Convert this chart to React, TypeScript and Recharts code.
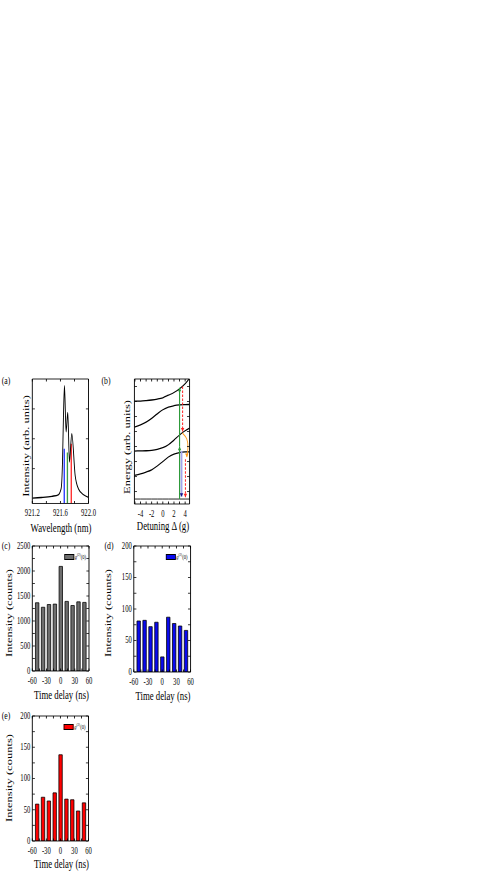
import React from 'react';
import { LineChart, Line, BarChart, Bar, XAxis, YAxis, Legend } from 'recharts';

// the printed figure is squashed sideways: lay everything out 1/S wider, then squeeze it back
const S = 0.7;
const FONT = '"Liberation Serif", "Times New Roman", Times, serif';
const AX = 1; // thickness given to each axis so recharts still draws it

// (a) emission spectrum
const WAVELENGTH = [921.2, 921.33, 921.48, 921.57, 921.61, 921.63, 921.643, 921.658, 921.681, 921.705, 921.729, 921.762, 921.81, 921.857, 921.93, 922.0];
const SPECTRUM = [0.043, 0.048, 0.058, 0.07, 0.118, 0.333, 0.683, 0.946, 0.575, 0.731, 0.333, 0.562, 0.226, 0.118, 0.07, 0.05];
const FILTER_WL = [921.655, 921.7, 921.755];
const FILTER_TOP = [0.44, 0.41, 0.48];
const FILTER_COLORS = ['#2436ff', '#3c9a46', '#ff2a2a'];
const WL_TICKS = [921.2, 921.4, 921.6, 921.8, 922.0];
const WL_LABELS = [921.2, 921.6, 922.0];
const SPEC_TICKS = [0.28, 0.52, 0.76];

// (b) dressed-state ladder vs detuning
const DETUNING = [-5.1, -4, -3, -2, -1, 0, 1, 2, 3, 4, 4.8];
const LEVEL_1 = [6.52, 6.53, 6.56, 6.6, 6.66, 6.75, 6.92, 7.1, 7.35, 7.68, 8.05];
const LEVEL_2 = [4.8, 4.95, 5.13, 5.38, 5.68, 5.95, 6.13, 6.22, 6.27, 6.29, 6.3];
const LEVEL_3 = [3.2, 3.21, 3.22, 3.25, 3.31, 3.42, 3.62, 3.93, 4.27, 4.55, 4.72];
const LEVEL_4 = [1.58, 1.68, 1.8, 1.95, 2.2, 2.5, 2.8, 3.0, 3.1, 3.14, 3.15];
const GROUND = [0, 0, 0, 0, 0, 0, 0, 0, 0, 0, 0];
const GREEN_DET = 3.0;
const GREEN_E = [0, 3.5, 7.42];
const BLUE_DET = 3.35;
const BLUE_E = [3.2, 0.15];
const RED_DET = [3.55, 4.05];
const RED_E = [[7.5, 4.5], [2.65, 0.12]];
const ORANGE_DET = [3.5, 4.3, 4.5, 4.3];
const ORANGE_E = [4.4, 4.0, 3.4, 2.8];
const DET_TICKS = [-5, -4, -3, -2, -1, 0, 1, 2, 3, 4];
const DET_LABELS = [-4, -2, 0, 2, 4];
const ENERGY_TICKS = [0.5, 1.5, 2.5, 3.5, 4.5, 5.5, 6.5, 7.5];

// (c)-(e) correlation histograms
const DELAY = [-50, -37.5, -25, -12.5, 0, 12.5, 25, 37.5, 50];
const COUNTS_ALL = [1365, 1275, 1330, 1338, 2092, 1392, 1310, 1383, 1372];
const COUNTS_BLUE = [81, 82, 72, 79, 24, 87, 77, 73, 66];
const COUNTS_RED = [59, 70, 64, 77, 138, 67, 66, 48, 61];
const DELAY_TICKS = [-60, -45, -30, -15, 0, 15, 30, 45, 60];
const DELAY_LABELS = [-60, -30, 0, 30, 60];
const ALL_TICKS = [0, 250, 500, 750, 1000, 1250, 1500, 1750, 2000, 2250, 2500];
const ALL_LABELS = [0, 500, 1000, 1500, 2000, 2500];
const SMALL_TICKS = [0, 25, 50, 75, 100, 125, 150, 175, 200];
const SMALL_LABELS = [0, 50, 100, 150, 200];

type Box = { sx: number[]; sy: number[]; px: number[]; py: number[] };
const BOX_A: Box = { sx: [0, 100], sy: [370, 530], px: [32.3, 88.5], py: [379, 503.5] };
const BOX_B: Box = { sx: [100, 200], sy: [370, 530], px: [134.3, 189.5], py: [379, 504] };
const BOX_C: Box = { sx: [0, 100], sy: [535, 700], px: [32.3, 89], py: [546, 671] };
const BOX_D: Box = { sx: [100, 200], sy: [535, 700], px: [133.7, 190.5], py: [546, 672] };
const BOX_E: Box = { sx: [0, 100], sy: [705, 873], px: [32.3, 88.5], py: [716, 841] };

const place = (b: Box) => ({
  left: b.sx[0] / S,
  top: b.sy[0],
  width: (b.sx[1] - b.sx[0]) / S,
  height: b.sy[1] - b.sy[0],
  margin: {
    left: (b.px[0] - b.sx[0]) / S - AX,
    right: (b.sx[1] - b.px[1]) / S - AX,
    top: b.py[0] - b.sy[0] - AX,
    bottom: b.sy[1] - b.py[1] - AX,
  },
});

const zip = (xs: number[], ys: number[]) => xs.map((x, i) => ({ x, y: ys[i] }));
const has = (list: number[] | undefined, v: number) => !!list && list.some((l) => Math.abs(l - v) < 1e-9);

// inward ticks drawn by hand, labels only on the listed values
const Tick = (props: any) => {
  const { x, y, payload, side, labels, fmt } = props;
  const v = payload.value;
  const len = 2.6;
  const txt = has(labels, v) ? (fmt ? fmt(v) : String(v)) : null;
  const textProps = { fontSize: 9.5, fontFamily: FONT, fill: '#000' };
  if (side === 'bottom')
    return (
      <g>
        <line x1={x} x2={x} y1={y} y2={y - len} stroke="#000" strokeWidth={1.2} />
        {txt && (
          <text x={x} y={y + 5.5} dy="0.75em" textAnchor="middle" {...textProps}>
            {txt}
          </text>
        )}
      </g>
    );
  if (side === 'top') return <line x1={x} x2={x} y1={y} y2={y + len} stroke="#000" strokeWidth={1.2} />;
  if (side === 'left')
    return (
      <g>
        <line x1={x} x2={x + len / S} y1={y} y2={y} stroke="#000" strokeWidth={0.9} />
        {txt && (
          <text x={x - 2 / S} y={y} dy="0.3em" textAnchor="end" {...textProps}>
            {txt}
          </text>
        )}
      </g>
    );
  return <line x1={x} x2={x - len / S} y1={y} y2={y} stroke="#000" strokeWidth={0.9} />;
};

const axisBase = {
  type: 'number' as const,
  allowDataOverflow: true,
  interval: 0 as const,
  tickSize: 0,
  tickMargin: 0,
  tickLine: false,
};

function frameAxes(o: { xDomain: number[]; xTicks: number[]; xLabels: number[]; xFmt?: (v: number) => string; yDomain: number[]; yTicks: number[]; yLabels?: number[] }) {
  return [
    <XAxis key="xb" xAxisId="b" dataKey="x" orientation="bottom" height={AX} domain={o.xDomain} ticks={o.xTicks} {...axisBase}
      axisLine={{ stroke: '#000', strokeWidth: 1 }}
      tick={(p: any) => <Tick {...p} side="bottom" labels={o.xLabels} fmt={o.xFmt} />} />,
    <XAxis key="xt" xAxisId="t" dataKey="x" orientation="top" height={AX} domain={o.xDomain} ticks={o.xTicks} {...axisBase}
      axisLine={{ stroke: '#000', strokeWidth: 1 }}
      tick={(p: any) => <Tick {...p} side="top" />} />,
    <YAxis key="yl" yAxisId="l" orientation="left" width={AX} domain={o.yDomain} ticks={o.yTicks} {...axisBase}
      axisLine={{ stroke: '#000', strokeWidth: 1.3 }}
      tick={(p: any) => <Tick {...p} side="left" labels={o.yLabels} />} />,
    <YAxis key="yr" yAxisId="r" orientation="right" width={AX} domain={o.yDomain} ticks={o.yTicks} {...axisBase}
      axisLine={{ stroke: '#000', strokeWidth: 1.3 }}
      tick={(p: any) => <Tick {...p} side="right" />} />,
  ];
}

// arrow head on the last point of a line
const arrowDot = (color: string, dir: 'up' | 'down', last: number) => (p: any) => {
  const { cx, cy, index } = p;
  if (index !== last) return <g key={index} />;
  const w = 1.7 / S;
  const h = 3.6;
  const base = dir === 'up' ? cy + h : cy - h;
  return <path key={index} d={`M${cx},${cy}L${cx - w},${base}L${cx + w},${base}Z`} fill={color} stroke="none" />;
};

const Label = ({ x, y, size = 12.5, rot = false, children }: any) => (
  <div
    style={{
      position: 'absolute',
      left: x / S,
      top: y,
      transform: `translate(-50%, -50%)${rot ? ' rotate(-90deg)' : ''}`,
      fontFamily: FONT,
      fontSize: size,
      whiteSpace: 'nowrap',
      lineHeight: 1,
      color: '#000',
    }}
  >
    {children}
  </div>
);

function SpectrumPanel() {
  const p = place(BOX_A);
  return (
    <div style={{ position: 'absolute', left: p.left, top: p.top }}>
      <LineChart width={p.width} height={p.height} margin={p.margin}>
        {frameAxes({ xDomain: [921.2, 922.0], xTicks: WL_TICKS, xLabels: WL_LABELS, xFmt: (v) => v.toFixed(1), yDomain: [0, 1], yTicks: SPEC_TICKS })}
        {FILTER_WL.map((wl, i) => (
          <Line key={i} xAxisId="b" yAxisId="l" data={zip([wl, wl], [0, FILTER_TOP[i]])} dataKey="y" type="linear"
            stroke={FILTER_COLORS[i]} strokeWidth={1.9} dot={false} isAnimationActive={false} />
        ))}
        <Line xAxisId="b" yAxisId="l" data={zip(WAVELENGTH, SPECTRUM)} dataKey="y" type="monotone"
          stroke="#000" strokeWidth={1.3} dot={false} isAnimationActive={false} />
      </LineChart>
    </div>
  );
}

function LadderPanel() {
  const p = place(BOX_B);
  const levels = [LEVEL_1, LEVEL_2, LEVEL_3, LEVEL_4, GROUND];
  return (
    <div style={{ position: 'absolute', left: p.left, top: p.top }}>
      <LineChart width={p.width} height={p.height} margin={p.margin}>
        {frameAxes({ xDomain: [-5.1, 4.8], xTicks: DET_TICKS, xLabels: DET_LABELS, yDomain: [-0.33, 8], yTicks: ENERGY_TICKS })}
        {levels.map((lv, i) => (
          <Line key={i} xAxisId="b" yAxisId="l" data={zip(DETUNING, lv)} dataKey="y" type="monotone"
            stroke="#000" strokeWidth={i === 4 ? 1 : 1.3} dot={false} isAnimationActive={false} />
        ))}
        <Line xAxisId="b" yAxisId="l" data={zip([BLUE_DET, BLUE_DET], BLUE_E)} dataKey="y" type="linear"
          stroke="#a4a4ee" strokeWidth={2.6} dot={arrowDot('#14148c', 'down', 1)} isAnimationActive={false} />
        <Line xAxisId="b" yAxisId="l" data={zip([GREEN_DET, GREEN_DET], [GREEN_E[0], GREEN_E[1]])} dataKey="y" type="linear"
          stroke="#2e9a3a" strokeWidth={1.6} dot={arrowDot('#2e9a3a', 'up', 1)} isAnimationActive={false} />
        <Line xAxisId="b" yAxisId="l" data={zip([GREEN_DET, GREEN_DET], [GREEN_E[1], GREEN_E[2]])} dataKey="y" type="linear"
          stroke="#2e9a3a" strokeWidth={1.6} dot={arrowDot('#2e9a3a', 'up', 1)} isAnimationActive={false} />
        {RED_DET.map((d, i) => (
          <Line key={`r${i}`} xAxisId="b" yAxisId="l" data={zip([d, d], RED_E[i])} dataKey="y" type="linear"
            stroke="#ff2020" strokeWidth={1.4} strokeDasharray="2.5 1.5" dot={arrowDot('#ff2020', 'down', 1)} isAnimationActive={false} />
        ))}
        <Line xAxisId="b" yAxisId="l" data={zip(ORANGE_DET, ORANGE_E)} dataKey="y" type="natural"
          stroke="#ff9a1a" strokeWidth={1.3} dot={arrowDot('#ff9a1a', 'down', ORANGE_DET.length - 1)} isAnimationActive={false} />
      </LineChart>
    </div>
  );
}

const GLegend = ({ color }: { color: string }) => (
  <div style={{ display: 'flex', alignItems: 'center', fontFamily: FONT, fontSize: 6.5, lineHeight: 1, color: '#000' }}>
    <span style={{ display: 'inline-block', width: 9.5 / S, height: 5.5, background: color, border: '1px solid #000', boxSizing: 'border-box', marginRight: 1 }} />
    <span>
      <i>g</i>
      <sup style={{ fontSize: 4.5 }}>(2)</sup>(0)
    </span>
  </div>
);

function CountsPanel({ box, values, color, yMax, ticks, labels }: { box: Box; values: number[]; color: string; yMax: number; ticks: number[]; labels: number[] }) {
  const p = place(box);
  return (
    <div style={{ position: 'absolute', left: p.left, top: p.top }}>
      <BarChart width={p.width} height={p.height} margin={p.margin} data={zip(DELAY, values)}>
        {frameAxes({ xDomain: [-60, 60], xTicks: DELAY_TICKS, xLabels: DELAY_LABELS, yDomain: [0, yMax], yTicks: ticks, yLabels: labels })}
        <Bar xAxisId="b" yAxisId="l" dataKey="y" fill={color} stroke="#000" strokeWidth={0.9} barSize={3.4 / S} isAnimationActive={false} />
        <Legend layout="vertical" align="center" verticalAlign="middle"
          wrapperStyle={{ left: (box.px[1] - 24.5 - box.sx[0]) / S, top: box.py[0] + 7 - box.sy[0], width: 'auto', height: 'auto' }}
          content={() => <GLegend color={color} />} />
      </BarChart>
    </div>
  );
}

export default function App() {
  return (
    <div
      style={{
        position: 'absolute',
        left: 0,
        top: 0,
        width: 200 / S,
        height: 873,
        transform: `scaleX(${S})`,
        transformOrigin: '0 0',
        background: '#fff',
      }}
    >
      <SpectrumPanel />
      <LadderPanel />
      <CountsPanel box={BOX_C} values={COUNTS_ALL} color="#6e6e6e" yMax={2500} ticks={ALL_TICKS} labels={ALL_LABELS} />
      <CountsPanel box={BOX_D} values={COUNTS_BLUE} color="#0a0af0" yMax={200} ticks={SMALL_TICKS} labels={SMALL_LABELS} />
      <CountsPanel box={BOX_E} values={COUNTS_RED} color="#ff0000" yMax={200} ticks={SMALL_TICKS} labels={SMALL_LABELS} />

      <Label x={6} y={380} size={11}>(a)</Label>
      <Label x={106} y={380} size={11}>(b)</Label>
      <Label x={6} y={545} size={11}>(c)</Label>
      <Label x={109} y={545} size={11}>(d)</Label>
      <Label x={6} y={715} size={11}>(e)</Label>

      <Label x={26} y={446} rot>Intensity (arb. units)</Label>
      <Label x={127.5} y={447} rot>Energy (arb. units)</Label>
      <Label x={9.5} y={613} rot>Intensity (counts)</Label>
      <Label x={108.5} y={613} rot>Intensity (counts)</Label>
      <Label x={9.5} y={778} rot>Intensity (counts)</Label>

      <Label x={61} y={528}>Wavelength (nm)</Label>
      <Label x={163} y={526}>Detuning Δ (g)</Label>
      <Label x={61.5} y={695}>Time delay (ns)</Label>
      <Label x={163} y={696}>Time delay (ns)</Label>
      <Label x={61.5} y={864}>Time delay (ns)</Label>
    </div>
  );
}
